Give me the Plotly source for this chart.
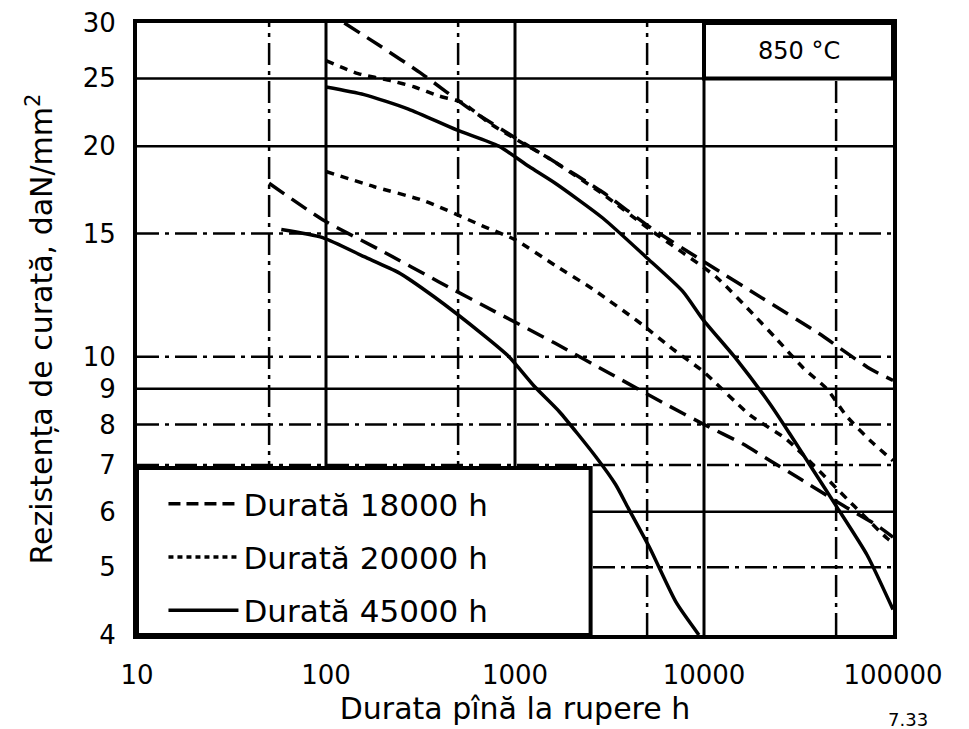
import math
import plotly.graph_objects as go

# ---------------- data ----------------
legend_names = ["Durată 18000 h", "Durată 20000 h", "Durată 45000 h"]

# upper family
upper_18000_x = [125, 190, 320, 590, 1050, 1520, 2900, 5200, 10300, 20600, 40400, 76000, 100000]
upper_18000_y = [30, 27.9, 25.4, 22.5, 20.4, 19.2, 17.2, 15.3, 13.6, 12.1, 10.8, 9.6, 9.25]

upper_20000_x = [100, 148, 222, 294, 394, 523, 728, 1000, 1515, 2900, 5160, 11600, 18200, 24200,
                 33600, 44600, 56900, 76400, 100000]
upper_20000_y = [26.5, 25.4, 24.8, 24.3, 23.6, 23.1, 21.6, 20.5, 19.2, 17.1, 15.2, 13.0, 11.5, 10.6,
                 9.63, 9.0, 8.22, 7.57, 7.1]

upper_45000_x = [100, 159, 273, 491, 822, 1187, 1633, 2900, 4910, 7720, 9880, 14800, 22400, 28600,
                 38000, 50400, 72800, 100000]
upper_45000_y = [24.3, 23.7, 22.6, 21.1, 20.0, 18.7, 17.7, 15.8, 13.9, 12.4, 11.3, 9.93, 8.55, 7.74,
                 6.87, 6.1, 5.21, 4.35]

# lower family
lower_18000_x = [50, 96, 204, 394, 783, 1633, 3160, 6280, 10000, 16100, 22400, 30800, 54800, 82200, 100000]
lower_18000_y = [17.7, 15.7, 14.1, 12.8, 11.6, 10.45, 9.47, 8.55, 8.0, 7.5, 7.1, 6.74, 6.12, 5.74, 5.52]

lower_20000_x = [100, 180, 332, 667, 1000, 1633, 2570, 4740, 6840, 9880, 17600, 27300, 62100, 93000, 100000]
lower_20000_y = [18.4, 17.5, 16.7, 15.4, 14.7, 13.5, 12.5, 11.1, 10.25, 9.53, 8.24, 7.62, 6.12, 5.5, 5.42]

lower_45000_x = [58, 96, 159, 241, 370, 692, 929, 1276, 1713, 2670, 3400, 3980, 5160, 7100, 9400]
lower_45000_y = [15.2, 14.8, 13.9, 13.2, 12.2, 10.7, 10.0, 9.05, 8.35, 7.2, 6.57, 6.07, 5.33, 4.46, 4.0]

# axes / grid
x_range = [10, 100000]
y_range = [4, 30]
x_tick_vals = [10, 100, 1000, 10000, 100000]
y_tick_vals = [4, 5, 6, 7, 8, 9, 10, 15, 20, 25, 30]
x_major_grid = [100, 1000, 10000]
x_minor_grid = [50, 500, 5000, 50000]
y_solid_grid = [25, 20, 9, 6]
y_dashed_grid = [15, 10, 8, 7, 5]

temp_label = "850 °C"
temp_box_x = [10000, 100000]
temp_box_y = [25, 30]

x_title = "Durata pînă la rupere h"
y_title = "Rezistența de curată, daN/mm<sup>2</sup>"
fig_number = "7.33"

# ---------------- figure ----------------
INK = "black"
FONT = "DejaVu Sans"
fig = go.Figure()


def grid_h(v, dash, width):
    fig.add_trace(go.Scatter(x=x_range, y=[v, v], mode="lines",
                             line=dict(color=INK, width=width, dash=dash),
                             hoverinfo="skip", showlegend=False))


def grid_v(v, dash, width):
    fig.add_trace(go.Scatter(x=[v, v], y=y_range, mode="lines",
                             line=dict(color=INK, width=width, dash=dash),
                             hoverinfo="skip", showlegend=False))


for v in y_solid_grid:
    grid_h(v, "solid", 2.5)
for v in y_dashed_grid:
    grid_h(v, "22px,6px,4px,6px", 2.5)
for v in x_major_grid:
    grid_v(v, "solid", 3)
for v in x_minor_grid:
    grid_v(v, "22px,6px,4px,6px", 2.5)

styles = [("18px,9px", "12px,6px"), ("8px,7px", "5px,4px"), ("solid", "solid")]
pairs = [(upper_18000_x, upper_18000_y, lower_18000_x, lower_18000_y),
         (upper_20000_x, upper_20000_y, lower_20000_x, lower_20000_y),
         (upper_45000_x, upper_45000_y, lower_45000_x, lower_45000_y)]

for name, (dash, ldash), (ux, uy, lx, ly) in zip(legend_names, styles, pairs):
    for xs, ys in ((ux, uy), (lx, ly)):
        fig.add_trace(go.Scatter(x=xs, y=ys, mode="lines", name=name, legendgroup=name,
                                 line=dict(color=INK, width=3.5, dash=dash, shape="spline", smoothing=0.6),
                                 showlegend=False))
    # legend proxy
    fig.add_trace(go.Scatter(x=[None], y=[None], mode="lines", name=name, legendgroup=name,
                             line=dict(color=INK, width=3.5, dash=ldash), showlegend=True))


def fx(v):
    return (math.log10(v) - math.log10(x_range[0])) / (math.log10(x_range[1]) - math.log10(x_range[0]))


def fy(v):
    return (math.log10(v) - math.log10(y_range[0])) / (math.log10(y_range[1]) - math.log10(y_range[0]))


shapes = [
    # legend box
    dict(type="rect", xref="paper", yref="paper", x0=0, x1=0.6, y0=0, y1=0.273,
         fillcolor="white", line=dict(color=INK, width=4), layer="above"),
    # temperature box
    dict(type="rect", xref="paper", yref="paper",
         x0=fx(temp_box_x[0]), x1=fx(temp_box_x[1]), y0=fy(temp_box_y[0]), y1=fy(temp_box_y[1]),
         fillcolor="white", line=dict(color=INK, width=4), layer="above"),
]

annotations = [
    dict(xref="paper", yref="paper",
         x=(fx(temp_box_x[0]) + fx(temp_box_x[1])) / 2, y=(fy(temp_box_y[0]) + fy(temp_box_y[1])) / 2,
         xanchor="center", yanchor="middle",
         text=temp_label, showarrow=False, font=dict(size=24, family=FONT, color=INK)),
    dict(xref="paper", yref="paper", x=1.02, y=-0.118, xanchor="center", yanchor="top",
         text=fig_number, showarrow=False, font=dict(size=18, family=FONT, color=INK)),
]

fig.update_layout(
    width=969, height=729, autosize=False,
    margin=dict(l=129, r=84, t=15, b=102),
    paper_bgcolor="white", plot_bgcolor="white",
    font=dict(family=FONT, color=INK, size=26),
    showlegend=True,
    legend=dict(x=0.035, y=0.258, xanchor="left", yanchor="top", bgcolor="rgba(0,0,0,0)",
                borderwidth=0, font=dict(size=31, family=FONT, color=INK),
                traceorder="grouped", tracegroupgap=10, itemwidth=70),
    shapes=shapes,
    annotations=annotations,
    xaxis=dict(type="log", range=[math.log10(x_range[0]), math.log10(x_range[1])],
               tickvals=x_tick_vals, ticktext=[str(v) for v in x_tick_vals],
               showgrid=False, zeroline=False, showline=True, mirror=True, automargin=False,
               linecolor=INK, linewidth=4, ticks="", ticklabelstandoff=14,
               tickfont=dict(size=26, family=FONT, color=INK),
               title=dict(text=x_title, font=dict(size=30, family=FONT, color=INK), standoff=10)),
    yaxis=dict(type="log", range=[math.log10(y_range[0]), math.log10(y_range[1])],
               tickvals=y_tick_vals, ticktext=[str(v) for v in y_tick_vals],
               showgrid=False, zeroline=False, showline=True, mirror=True, automargin=False,
               linecolor=INK, linewidth=4, ticks="", ticklabelstandoff=12,
               tickfont=dict(size=26, family=FONT, color=INK),
               title=dict(text=y_title, font=dict(size=30, family=FONT, color=INK), standoff=22)),
)

fig.write_html("out.html")
